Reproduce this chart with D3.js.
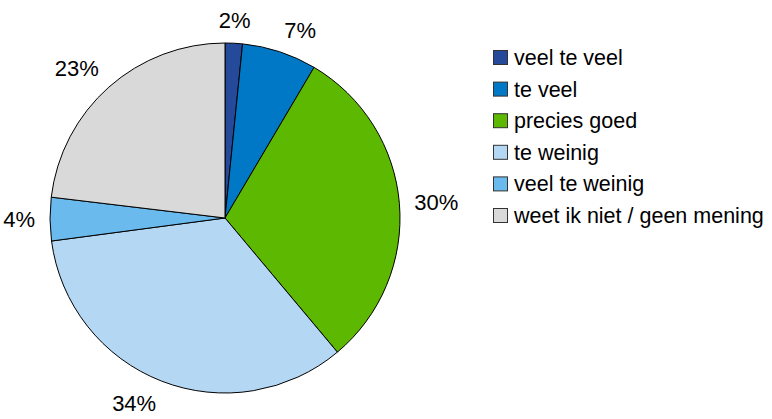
<!DOCTYPE html>
<html>
<head>
<meta charset="utf-8">
<script src="https://cdn.jsdelivr.net/npm/d3@7"></script>
<style>
  body { margin: 0; background: #fff; }
  text { font-family: "Liberation Sans", Arial, sans-serif; fill: #000; }
</style>
</head>
<body>
<div class="chart"></div>
<script>
var svgWidth = 772;
var svgHeight = 419;

// Data
var categories = ["veel te veel", "te veel", "precies goed", "te weinig", "veel te weinig", "weet ik niet / geen mening"];
var values = [1.6, 6.9, 30.4, 34.0, 4.0, 23.1];
var labels = ["2%", "7%", "30%", "34%", "4%", "23%"];
var colors = ["#254a9a", "#0078c6", "#5cb800", "#b4d8f4", "#6bbaee", "#d9d9d9"];

var cx = 225, cy = 218, radius = 175;
var fontSize = 22;
var capH = fontSize * 0.716;

var svg = d3.select(".chart")
  .append("svg")
  .attr("width", svgWidth)
  .attr("height", svgHeight);

var pieGroup = svg.append("g")
  .attr("transform", `translate(${cx}, ${cy})`);

var pie = d3.pie().sort(null).value(d => d);
var arcs = pie(values);

var arc = d3.arc().innerRadius(0).outerRadius(radius);

pieGroup.selectAll("path")
  .data(arcs)
  .enter()
  .append("path")
  .attr("d", arc)
  .attr("fill", (d, i) => colors[i])
  .attr("stroke", "#000")
  .attr("stroke-width", 1)
  .attr("stroke-linejoin", "round");

// Labels placed outside, box corner touching the anchor point
var labelR = 190;
pieGroup.selectAll("text.pct")
  .data(arcs)
  .enter()
  .append("text")
  .attr("class", "pct")
  .style("font-size", fontSize + "px")
  .each(function(d, i) {
    var a = (d.startAngle + d.endAngle) / 2;
    var s = Math.sin(a), c = Math.cos(a);
    var px = labelR * s, py = -labelR * c;
    var anchor = s > 0.15 ? "start" : (s < -0.15 ? "end" : "middle");
    var y;
    if (c > 0.2) y = py;              // box bottom at anchor
    else if (c < -0.2) y = py + capH; // box top at anchor
    else y = py + capH / 2;           // centred
    d3.select(this)
      .attr("x", px)
      .attr("y", y)
      .attr("text-anchor", anchor)
      .text(labels[i]);
  });

// Legend
var legend = svg.append("g")
  .attr("transform", "translate(493, 65)");

var rowH = 31.6;

var rows = legend.selectAll("g")
  .data(categories)
  .enter()
  .append("g")
  .attr("transform", (d, i) => `translate(0, ${i * rowH})`);

rows.append("rect")
  .attr("x", 0.5)
  .attr("y", -14.5)
  .attr("width", 14)
  .attr("height", 14)
  .attr("fill", (d, i) => colors[i])
  .attr("stroke", "#333")
  .attr("stroke-width", 1);

rows.append("text")
  .attr("x", 21)
  .attr("y", 0)
  .style("font-size", "21.5px")
  .text(d => d);
</script>
</body>
</html>
